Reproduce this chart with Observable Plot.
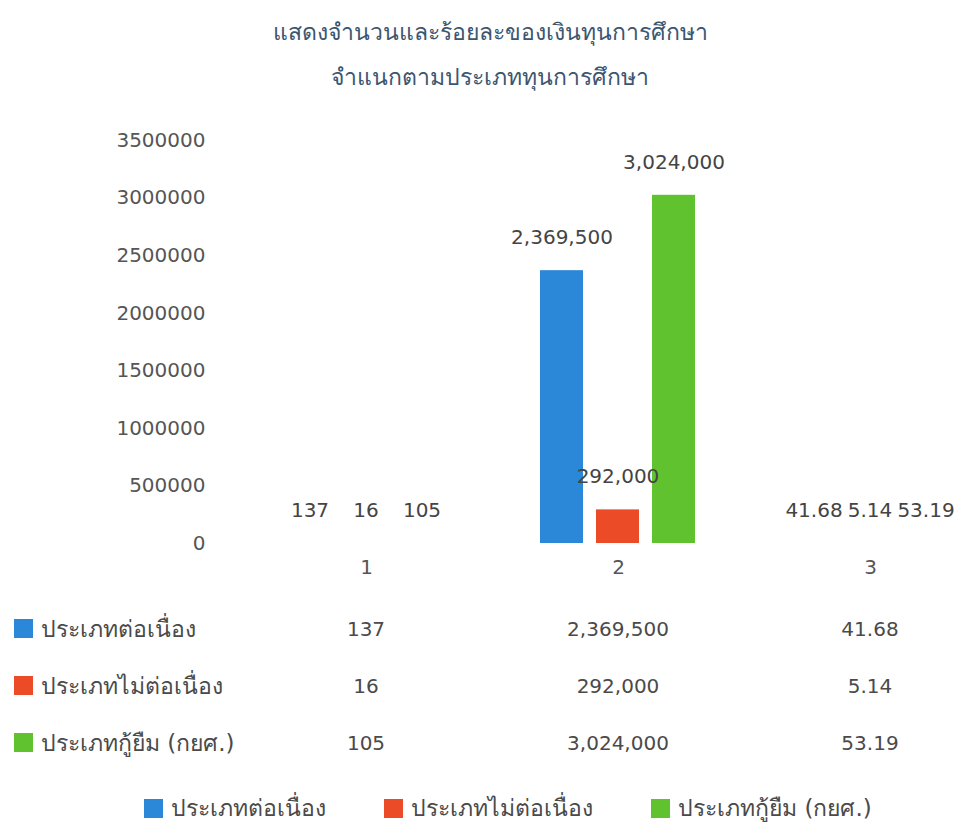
<!DOCTYPE html>
<html>
<head>
<meta charset="utf-8">
<script src="https://cdn.jsdelivr.net/npm/d3@7"></script>
<script src="https://cdn.jsdelivr.net/npm/@observablehq/plot@0.6"></script>
<style>
  body { margin: 0; background: #fff; width: 956px; height: 825px; overflow: hidden; font-family: "DejaVu Sans", "Noto Sans", sans-serif; }
  #title { text-align: center; padding-left: 24px; padding-top: 10px; font-size: 23px; line-height: 45px; color: #3d5670; }
  #chart { margin-top: 10px; height: 490px; }
  .row { display: grid; grid-template-columns: 240px 252px 252px 252px; height: 57px; align-items: center; font-size: 20px; color: #4a4a4a; }
  .row .lab { display: flex; align-items: center; padding-left: 14px; font-size: 23px; }
  .sw { display: inline-block; width: 19px; height: 19px; margin-right: 8px; }
  .row .v { text-align: center; }
  #legend { margin-top: 22px; display: flex; justify-content: center; padding-left: 60px; gap: 58px; font-size: 23px; color: #4a4a4a; line-height: 30px; }
  #legend .it { display: flex; align-items: center; }
</style>
</head>
<body>
<div id="title"></div>
<div id="chart"></div>
<div id="table"></div>
<div id="legend"></div>
<script>
const titleLines = ["แสดงจำนวนและร้อยละของเงินทุนการศึกษา", "จำแนกตามประเภททุนการศึกษา"];
const groups = ["1", "2", "3"];
const series = ["ประเภทต่อเนื่อง", "ประเภทไม่ต่อเนื่อง", "ประเภทกู้ยืม (กยศ.)"];
const continuous = [137, 2369500, 41.68];
const nonContinuous = [16, 292000, 5.14];
const loan = [105, 3024000, 53.19];
const colors = ["#2b87d8", "#ec4b28", "#61c230"];
const yTicks = [0, 500000, 1000000, 1500000, 2000000, 2500000, 3000000, 3500000];

const valuesBySeries = [continuous, nonContinuous, loan];
const data = [];
groups.forEach((g, gi) => {
  series.forEach((s, si) => data.push({group: g, series: s, value: valuesBySeries[si][gi]}));
});
const fmt = d3.format(",");

document.getElementById("title").innerHTML = titleLines.map(t => `<div>${t}</div>`).join("");

const chart = Plot.plot({
  width: 956,
  height: 490,
  marginTop: 30,
  marginBottom: 57,
  marginLeft: 240,
  marginRight: -40,
  style: { fontSize: "20px", fontFamily: "DejaVu Sans, Noto Sans, sans-serif", color: "#555", background: "transparent", overflow: "visible" },
  y: { domain: [0, 3500000], ticks: yTicks, tickFormat: d3.format("d"), tickSize: 0, tickPadding: 35, label: null },
  fx: { domain: groups, padding: 0, label: null, tickSize: 0, tickPadding: 16 },
  x: { domain: series, axis: null, paddingInner: 0.23, paddingOuter: 0.865 },
  color: { domain: series, range: colors },
  marks: [
    Plot.barY(data, { fx: "group", x: "series", y: "value", fill: "series" }),
    Plot.text(data, { fx: "group", x: "series", y: "value", text: d => fmt(d.value), dy: -33, fill: "#444", fontSize: 20 })
  ]
});
document.getElementById("chart").appendChild(chart);

const table = document.getElementById("table");
series.forEach((s, si) => {
  const row = document.createElement("div");
  row.className = "row";
  row.innerHTML = `<div class="lab"><span class="sw" style="background:${colors[si]}"></span>${s}</div>` +
    groups.map((g, gi) => `<div class="v">${fmt(valuesBySeries[si][gi])}</div>`).join("");
  table.appendChild(row);
});

document.getElementById("legend").innerHTML = series.map((s, si) =>
  `<div class="it"><span class="sw" style="background:${colors[si]}"></span>${s}</div>`).join("");
</script>
</body>
</html>
